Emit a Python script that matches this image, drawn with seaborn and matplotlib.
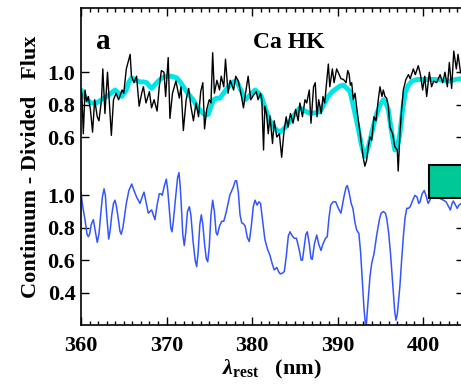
import numpy as np
import pandas as pd
import matplotlib
matplotlib.use("Agg")
import matplotlib.pyplot as plt
import seaborn as sns
from matplotlib.patches import Rectangle
from matplotlib.ticker import MultipleLocator, FixedLocator, FixedFormatter

# ---------------- data ----------------
lam_obs = [360.0, 360.1, 360.27, 360.47, 360.66, 360.86, 361.1, 361.35, 361.6, 361.9,
           362.1, 362.4, 362.55, 362.8, 363.1, 363.3, 363.55, 363.8, 364.1, 364.4,
           364.8, 365.0, 365.3, 365.5, 365.75, 365.9, 366.2, 366.5, 366.8, 367.1,
           367.3, 367.6, 368.0, 368.25, 368.55, 368.9, 369.15, 369.4, 369.7, 369.9,
           370.2, 370.4, 370.7, 371.1, 371.5, 371.7, 371.97, 372.3, 372.6, 372.85,
           373.15, 373.45, 373.75, 374.0, 374.25, 374.45, 374.7, 375.0, 375.2, 375.4,
           375.6, 375.9, 376.2, 376.4, 376.7, 376.9, 377.2, 377.45, 377.85, 378.1,
           378.4, 378.7, 379.0, 379.3, 379.55, 379.85, 380.2, 380.5, 380.7, 381.0,
           381.15, 381.35, 381.5, 381.7, 381.9, 382.1, 382.4, 382.6, 382.9, 383.2,
           383.47, 383.75, 384.0, 384.2, 384.5, 384.8, 385.1, 385.4, 385.6, 385.9,
           386.2, 386.4, 386.7, 386.9, 387.2, 387.4, 387.6, 387.8, 388.1, 388.3,
           388.5, 388.93, 389.1, 389.4, 389.6, 389.9, 390.2, 390.4, 390.7, 391.0,
           391.2, 391.35, 391.5, 391.66, 391.85, 392.05, 392.25, 392.55, 392.8, 393.0,
           393.2, 393.4, 393.6, 393.8, 394.0, 394.27, 394.5, 394.77, 394.97, 395.2,
           395.36, 395.55, 395.75, 395.94, 396.14, 396.45, 396.7, 396.99, 397.1, 397.3,
           397.5, 397.7, 398.0, 398.3, 398.5, 398.87, 399.1, 399.45, 399.7, 399.96,
           400.2, 400.43, 400.74, 401.0, 401.25, 401.6, 402.0, 402.3, 402.57, 402.85,
           403.08, 403.35, 403.6, 403.9, 404.1, 404.4]
flux_obs = [0.88, 0.87, 0.62, 0.89, 0.82, 0.85, 0.77, 0.63, 0.83, 0.725,
            0.70, 0.83, 1.02, 0.745, 1.00, 0.83, 0.61, 0.83, 0.87, 0.83,
            0.89, 0.87, 1.02, 1.06, 1.11, 0.975, 0.935, 0.975, 0.79, 0.87,
            0.91, 0.81, 0.88, 0.78, 0.83, 0.76, 0.91, 1.01, 1.00, 0.85,
            1.09, 0.715, 0.87, 0.945, 0.84, 0.91, 0.64, 0.83, 0.90, 0.79,
            0.70, 0.81, 0.725, 0.88, 0.935, 0.65, 0.77, 0.83, 0.81, 1.12,
            0.87, 0.95, 0.89, 0.975, 0.91, 1.08, 0.87, 0.95, 0.89, 0.975,
            0.945, 0.87, 0.78, 0.89, 0.975, 0.83, 0.86, 0.88, 0.83, 0.87,
            0.83, 0.52, 0.79, 0.745, 0.62, 0.73, 0.56, 0.70, 0.60, 0.62,
            0.475, 0.64, 0.725, 0.66, 0.745, 0.685, 0.77, 0.70, 0.81, 0.725,
            0.83, 0.81, 0.89, 0.685, 0.91, 0.935, 0.725, 0.83, 0.745, 0.85,
            0.81, 1.05, 0.91, 1.02, 0.935, 1.02, 0.985, 0.96, 0.955, 0.935,
            1.01, 0.99, 0.92, 0.935, 0.83, 0.87, 0.78, 0.66, 0.56, 0.475,
            0.42, 0.455, 0.54, 0.60, 0.58, 0.725, 0.70, 0.83, 0.91, 0.85,
            0.89, 0.85, 0.84, 0.79, 0.66, 0.62, 0.54, 0.52, 0.39, 0.62,
            0.77, 0.89, 0.955, 0.985, 0.96, 1.02, 0.985, 1.04, 0.985, 0.89,
            0.975, 0.85, 1.00, 0.91, 0.945, 0.935, 0.985, 0.935, 1.00, 0.91,
            1.06, 0.90, 1.13, 1.02, 1.11, 0.995]

lam_model = [360.0, 360.3, 360.66, 361.2, 361.8, 362.4, 363.0, 363.5, 363.98, 364.4,
             364.76, 365.05, 365.3, 365.6, 365.93, 366.4, 366.9, 367.3, 367.7, 368.0,
             368.27, 368.6, 369.04, 369.5, 370.0, 370.6, 371.2, 371.6, 371.97, 372.5,
             373.1, 373.7, 374.3, 374.6, 374.9, 375.2, 375.5, 375.9, 376.25, 376.8,
             377.4, 377.8, 378.2, 378.7, 379.2, 379.8, 380.35, 380.7, 381.1, 381.6,
             382.1, 382.7, 383.3, 383.9, 384.45, 385.0, 385.6, 386.2, 386.8, 387.4,
             387.95, 388.4, 388.9, 389.4, 389.9, 390.3, 390.7, 391.1, 391.46, 391.9,
             392.4, 392.8, 393.2, 393.5, 393.8, 394.2, 394.6, 395.0, 395.36, 395.65,
             395.94, 396.3, 396.7, 397.0, 397.3, 397.6, 397.9, 398.3, 398.7, 399.3,
             400.0, 400.8, 401.6, 402.4, 403.2, 403.8, 404.5]
flux_model = [0.89, 0.86, 0.83, 0.81, 0.81, 0.83, 0.85, 0.87, 0.89, 0.87,
              0.85, 0.87, 0.89, 0.94, 0.965, 0.95, 0.94, 0.94, 0.935, 0.915,
              0.90, 0.92, 0.945, 0.965, 0.975, 0.975, 0.965, 0.94, 0.91, 0.87,
              0.83, 0.78, 0.745, 0.735, 0.74, 0.79, 0.83, 0.84, 0.84, 0.88,
              0.92, 0.94, 0.945, 0.89, 0.83, 0.86, 0.89, 0.875, 0.85, 0.77,
              0.70, 0.65, 0.63, 0.66, 0.70, 0.74, 0.78, 0.76, 0.745, 0.75,
              0.755, 0.80, 0.85, 0.88, 0.90, 0.915, 0.92, 0.90, 0.88, 0.78,
              0.66, 0.55, 0.48, 0.52, 0.58, 0.67, 0.745, 0.80, 0.83, 0.81,
              0.77, 0.64, 0.52, 0.54, 0.62, 0.76, 0.87, 0.92, 0.945, 0.955,
              0.955, 0.955, 0.955, 0.95, 0.945, 0.955, 0.96]

lam_comp = [360.0, 360.2, 360.47, 360.7, 360.86, 361.0, 361.2, 361.44, 361.6, 361.9,
            362.1, 362.3, 362.5, 362.7, 362.85, 363.0, 363.24, 363.4, 363.6, 363.8,
            363.98, 364.15, 364.35, 364.55, 364.7, 364.9, 365.3, 365.6, 365.93, 366.2,
            366.5, 366.7, 366.9, 367.15, 367.37, 367.6, 367.87, 368.05, 368.27, 368.45,
            368.65, 368.9, 369.16, 369.35, 369.5, 369.75, 369.98, 370.15, 370.3, 370.5,
            370.64, 370.8, 371.05, 371.3, 371.46, 371.6, 371.75, 371.9, 372.08, 372.25,
            372.45, 372.67, 372.85, 373.1, 373.35, 373.53, 373.7, 373.9, 374.07, 374.25,
            374.45, 374.65, 374.82, 375.0, 375.2, 375.4, 375.6, 375.8, 375.95, 376.2,
            376.46, 376.7, 377.0, 377.4, 377.8, 378.05, 378.2, 378.4, 378.6, 378.8,
            379.0, 379.2, 379.45, 379.68, 379.9, 380.15, 380.35, 380.6, 380.8, 381.0,
            381.2, 381.5, 381.8, 382.1, 382.35, 382.6, 382.9, 383.1, 383.3, 383.55,
            383.78, 384.0, 384.25, 384.45, 384.7, 384.95, 385.2, 385.5, 385.75, 385.9,
            386.1, 386.3, 386.47, 386.7, 386.9, 387.05, 387.3, 387.57, 387.8, 388.07,
            388.3, 388.6, 388.8, 389.0, 389.2, 389.5, 389.79, 390.1, 390.4, 390.75,
            391.0, 391.15, 391.35, 391.6, 391.8, 392.05, 392.25, 392.5, 392.7, 392.9,
            393.1, 393.33, 393.55, 393.8, 394.0, 394.27, 394.6, 394.9, 395.1, 395.36,
            395.6, 395.75, 396.0, 396.2, 396.5, 396.7, 396.84, 397.0, 397.3, 397.5,
            397.7, 397.9, 398.1, 398.3, 398.5, 398.8, 399.06, 399.3, 399.5, 399.65,
            399.9, 400.15, 400.4, 400.6, 400.9, 401.2, 401.6, 402.0, 402.4, 402.7,
            403.0, 403.2, 403.4, 403.55, 403.8, 404.0, 404.2, 404.5]
flux_comp = [1.02, 0.93, 0.85, 0.76, 0.745, 0.76, 0.82, 0.85, 0.80, 0.71,
             0.76, 0.88, 0.99, 1.04, 1.00, 0.88, 0.73, 0.78, 0.88, 0.95,
             0.97, 0.93, 0.86, 0.78, 0.76, 0.80, 0.95, 1.03, 1.07, 1.03,
             0.99, 0.97, 0.95, 0.99, 1.02, 0.96, 0.89, 0.90, 0.91, 0.88,
             0.85, 0.94, 1.01, 1.01, 1.00, 1.06, 1.10, 1.03, 0.93, 0.80,
             0.775, 0.84, 0.98, 1.11, 1.14, 1.06, 0.92, 0.76, 0.69, 0.77,
             0.90, 0.93, 0.88, 0.72, 0.60, 0.56, 0.65, 0.82, 0.88, 0.82,
             0.70, 0.61, 0.59, 0.68, 0.88, 0.97, 0.90, 0.77, 0.755, 0.81,
             0.84, 0.84, 0.90, 1.00, 1.05, 1.09, 1.09, 1.02, 0.88, 0.83,
             0.825, 0.81, 0.74, 0.715, 0.80, 0.93, 0.97, 0.94, 0.96, 0.95,
             0.86, 0.73, 0.67, 0.63, 0.58, 0.54, 0.555, 0.53, 0.515, 0.52,
             0.53, 0.62, 0.75, 0.775, 0.75, 0.735, 0.735, 0.67, 0.60, 0.60,
             0.68, 0.76, 0.775, 0.70, 0.61, 0.605, 0.70, 0.755, 0.70, 0.66,
             0.70, 0.735, 0.745, 0.86, 0.94, 0.96, 0.96, 0.92, 0.89, 0.99,
             1.05, 1.06, 1.02, 0.95, 0.92, 0.83, 0.785, 0.765, 0.65, 0.48,
             0.30, 0.17, 0.33, 0.50, 0.58, 0.64, 0.76, 0.85, 0.89, 0.90,
             0.89, 0.86, 0.76, 0.64, 0.42, 0.28, 0.23, 0.27, 0.44, 0.60,
             0.745, 0.86, 0.92, 0.92, 0.93, 0.97, 1.00, 0.99, 0.95, 0.96,
             1.01, 1.03, 0.99, 0.95, 0.98, 1.00, 0.99, 0.98, 0.97, 0.96,
             0.93, 0.91, 0.95, 0.965, 0.94, 0.92, 0.94, 0.95]

offset = 0.76
xticks = [360, 370, 380, 390, 400]
ytick_low = [0.4, 0.6, 0.8, 1.0]
ytick_up = [0.6, 0.8, 1.0]

# ---------------- style ----------------
sns.set_style("ticks")
plt.rcParams['font.family'] = ['Liberation Serif', 'DejaVu Serif']
plt.rcParams['font.weight'] = 'bold'
plt.rcParams['text.color'] = 'black'
plt.rcParams['axes.labelcolor'] = 'black'
plt.rcParams['xtick.color'] = 'black'
plt.rcParams['ytick.color'] = 'black'
plt.rcParams['mathtext.fontset'] = 'custom'
plt.rcParams['mathtext.rm'] = 'Liberation Serif:bold'
plt.rcParams['mathtext.it'] = 'Liberation Serif:bold:italic'
plt.rcParams['mathtext.bf'] = 'Liberation Serif:bold'

fig = plt.figure(figsize=(4.61, 3.84), dpi=100)
ax = fig.add_axes([81/461, 1-325/384, 382.5/461, 317/384])

df_obs = pd.DataFrame({"lam": lam_obs, "flux": np.array(flux_obs) + offset})
df_model = pd.DataFrame({"lam": lam_model, "flux": np.array(flux_model) + offset})
df_comp = pd.DataFrame({"lam": lam_comp, "flux": flux_comp})

sns.lineplot(data=df_model, x="lam", y="flux", ax=ax, color="#00E5E5", lw=3.5,
             estimator=None, solid_capstyle='round', solid_joinstyle='round')
sns.lineplot(data=df_obs, x="lam", y="flux", ax=ax, color="black", lw=1.0,
             estimator=None)
sns.lineplot(data=df_comp, x="lam", y="flux", ax=ax, color="#3355FF", lw=1.1,
             estimator=None)

ax.set_xlim(360, 360 + 382.5/8.55)
ax.set_ylim(0.2, 2.156)

ax.xaxis.set_major_locator(FixedLocator(xticks))
ax.xaxis.set_minor_locator(MultipleLocator(1))
ax.set_xticklabels([str(t) for t in xticks])
yt = ytick_low + [v + offset for v in ytick_up]
ax.yaxis.set_major_locator(FixedLocator(yt))
ax.yaxis.set_major_formatter(FixedFormatter([f"{v:.1f}" for v in ytick_low + ytick_up]))

ax.tick_params(axis='both', which='both', direction='in', top=True, right=True,
               labelsize=16, width=1.0, colors='black', labelcolor='black')
ax.tick_params(axis='x', which='major', length=6, pad=8)
ax.tick_params(axis='x', which='minor', length=3)
ax.tick_params(axis='y', which='major', length=6, pad=4)
for lab in ax.get_xticklabels() + ax.get_yticklabels():
    lab.set_fontweight('bold')
for s in ax.spines.values():
    s.set_linewidth(1.2)
    s.set_color('black')

ax.set_xlabel(r'$\lambda_{\rm rest}$   (nm)', fontsize=16, fontweight='bold',
              labelpad=1, color='black')
ax.set_ylabel('Continuum - Divided   Flux', fontsize=16, fontweight='bold',
              labelpad=5, color='black')

ax.text(0.04, 0.87, 'a', transform=ax.transAxes, fontsize=21, fontweight='bold',
        color='black')
ax.text(0.45, 0.875, 'Ca HK', transform=ax.transAxes, fontsize=17, fontweight='bold',
        color='black')

ax.add_patch(Rectangle((348/382.5, 0.402), 0.1, 0.1025, transform=ax.transAxes,
                       facecolor='#00C896', edgecolor='black', lw=1.5,
                       clip_on=False, zorder=5))

fig.savefig("out.png", dpi=100)
